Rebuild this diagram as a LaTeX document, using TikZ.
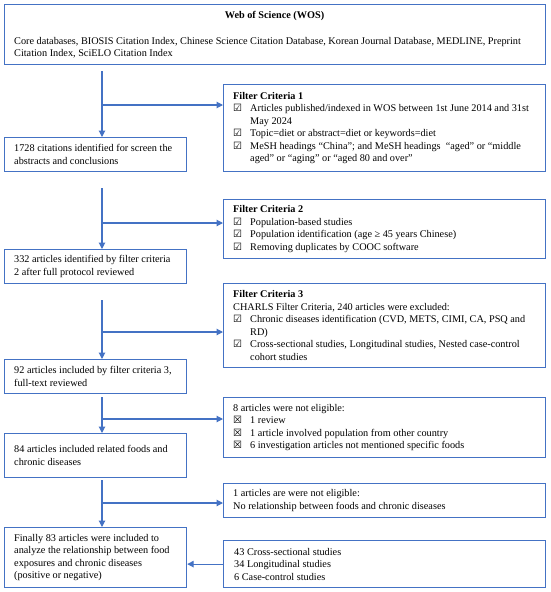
\documentclass[tikz,border=0pt]{standalone}
\usepackage{fontspec}
\setmainfont{Liberation Serif}
\newfontfamily\symfont{DejaVu Sans}
\usetikzlibrary{arrows.meta}
\definecolor{flowblue}{HTML}{4472C4}
\newcommand{\mycheck}{\makebox[17pt][l]{\symfont\fontsize{10}{10}\selectfont ☑}}
\newcommand{\mycross}{\makebox[17pt][l]{\symfont\fontsize{10}{10}\selectfont ☒}}
\newcommand{\myindent}{\hspace*{17pt}}
\begin{document}
\begin{tikzpicture}[x=1pt,y=-1pt,
  box/.style={draw=flowblue, line width=1.2pt, anchor=north west, inner sep=0pt},
  txt/.style={anchor=west, inner sep=0pt, align=left, font=\fontsize{10.25}{12.5}\selectfont},
  arr/.style={draw=flowblue, line width=1.1pt, -{Triangle[length=6.5pt,width=6.5pt]}}]
\useasboundingbox (0,0) rectangle (550,592);
% boxes
\node[box, minimum width=541pt, minimum height=60pt] (wos) at (4,4) {};
\node[box, minimum width=182pt, minimum height=34pt] (l1) at (4,137) {};
\node[box, minimum width=182pt, minimum height=34pt] (l2) at (4,249) {};
\node[box, minimum width=182pt, minimum height=34pt] (l3) at (4,359) {};
\node[box, minimum width=182pt, minimum height=44pt] (l4) at (4,433) {};
\node[box, minimum width=182pt, minimum height=60pt] (l5) at (4,527) {};
\node[box, minimum width=322pt, minimum height=87pt] (f1) at (223,84) {};
\node[box, minimum width=322pt, minimum height=59pt] (f2) at (223,199) {};
\node[box, minimum width=322pt, minimum height=84pt] (f3) at (223,283) {};
\node[box, minimum width=322pt, minimum height=60pt] (f4) at (223,397) {};
\node[box, minimum width=322pt, minimum height=34pt] (f5) at (223,483) {};
\node[box, minimum width=322pt, minimum height=47pt] (f6) at (223,540) {};
% texts
\node[txt, anchor=center, font=\bfseries\fontsize{10.25}{12.5}\selectfont] (wost) at (274.5,16) {Web of Science (WOS)};
\node[txt] (wosb) at (14,47.5) {Core databases, BIOSIS Citation Index, Chinese Science Citation Database, Korean Journal Database, MEDLINE, Preprint\\Citation Index, SciELO Citation Index};
\node[txt] (l1t) at ([xshift=10pt]l1.west) {1728 citations identified for screen the\\abstracts and conclusions};
\node[txt] (l2t) at ([xshift=10pt]l2.west) {332 articles identified by filter criteria\\2 after full protocol reviewed};
\node[txt] (l3t) at ([xshift=10pt]l3.west) {92 articles included by filter criteria 3,\\full-text reviewed};
\node[txt] (l4t) at ([xshift=10pt]l4.west) {84 articles included related foods and\\chronic diseases};
\node[txt] (l5t) at ([xshift=10pt]l5.west) {Finally 83 articles were included to\\analyze the relationship between food\\exposures and chronic diseases\\(positive or negative)};
\node[txt] (f1t) at ([xshift=10pt]f1.west) {\textbf{Filter Criteria 1}\\
\mycheck Articles published/indexed in WOS between 1st June 2014 and 31st\\
\myindent May 2024\\
\mycheck Topic=diet or abstract=diet or keywords=diet\\
\mycheck MeSH headings “China”; and MeSH headings\ \ “aged” or “middle\\
\myindent aged” or “aging” or “aged 80 and over”};
\node[txt] (f2t) at ([xshift=10pt]f2.west) {\textbf{Filter Criteria 2}\\
\mycheck Population-based studies\\
\mycheck Population identification (age ≥ 45 years Chinese)\\
\mycheck Removing duplicates by COOC software};
\node[txt] (f3t) at ([xshift=10pt]f3.west) {\textbf{Filter Criteria 3}\\
CHARLS Filter Criteria, 240 articles were excluded:\\
\mycheck Chronic diseases identification (CVD, METS, CIMI, CA, PSQ and\\
\myindent RD)\\
\mycheck Cross-sectional studies, Longitudinal studies, Nested case-control\\
\myindent cohort studies};
\node[txt] (f4t) at ([xshift=10pt]f4.west) {8 articles were not eligible:\\
\mycross 1 review\\
\mycross 1 article involved population from other country\\
\mycross 6 investigation articles not mentioned specific foods};
\node[txt] (f5t) at ([xshift=10pt]f5.west) {1 articles are were not eligible:\\No relationship between foods and chronic diseases};
\node[txt] (f6t) at ([xshift=11pt]f6.west) {43 Cross-sectional studies\\34 Longitudinal studies\\6 Case-control studies};
% connectors
\coordinate (s1) at (102,71);
\coordinate (b1) at (102,105);
\coordinate (s2) at (102,188);
\coordinate (b2) at (102,223);
\coordinate (s3) at (102,300);
\coordinate (b3) at (102,332);
\coordinate (s4) at (102,397);
\coordinate (b4) at (102,419);
\coordinate (s5) at (102,480);
\coordinate (b5) at (102,503);
\draw[arr] (s1) -- (s1 |- l1.north);
\draw[arr] (b1) -- (b1 -| f1.west);
\draw[arr] (s2) -- (s2 |- l2.north);
\draw[arr] (b2) -- (b2 -| f2.west);
\draw[arr] (s3) -- (s3 |- l3.north);
\draw[arr] (b3) -- (b3 -| f3.west);
\draw[arr] (s4) -- (s4 |- l4.north);
\draw[arr] (b4) -- (b4 -| f4.west);
\draw[arr] (s5) -- (s5 |- l5.north);
\draw[arr] (b5) -- (b5 -| f5.west);
\draw[arr] (f6.west) -- (f6.west -| l5.east);
\end{tikzpicture}
\end{document}
